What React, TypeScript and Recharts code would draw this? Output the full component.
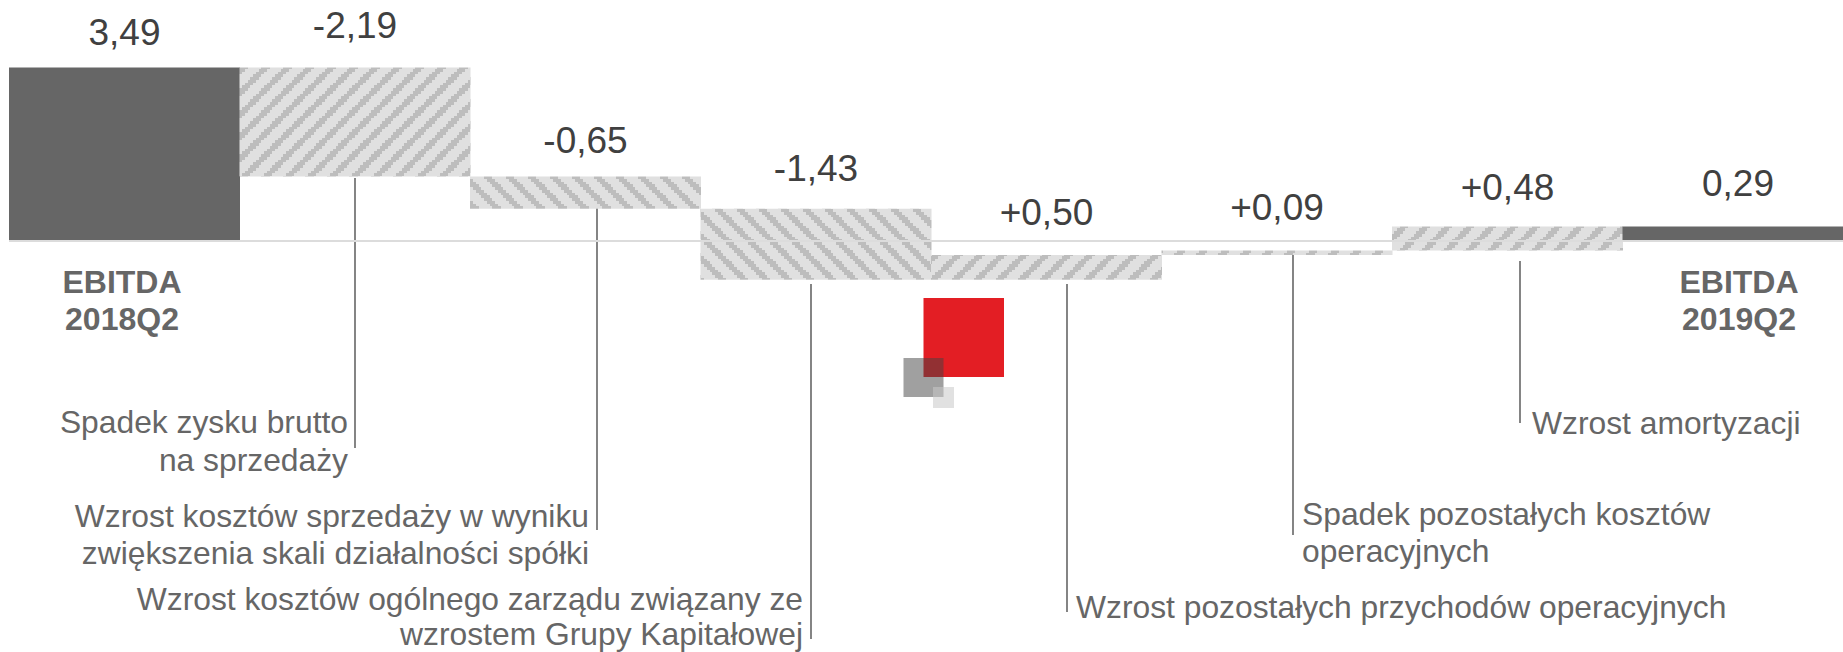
import { BarChart, Bar, Cell, XAxis, YAxis, ReferenceLine, LabelList } from "recharts";

const categories = ["start", "gross", "selling", "admin", "otherIncome", "otherCosts", "amortization", "end"];
const deltas = [3.49, -2.19, -0.65, -1.43, 0.5, 0.09, 0.48, 0.29];
const valueLabels = ["3,49", "-2,19", "-0,65", "-1,43", "+0,50", "+0,09", "+0,48", "0,29"];
const totals = ["start", "end"];
const hatchDown = ["selling", "admin"];

// how far above its bar each value label sits (px)
const labelLift = [23, 30, 23, 28, 30, 30, 27, 31];

const data = categories.map((name, i) => {
  const isTotal = totals.includes(name);
  const before = deltas.slice(0, i).reduce((a, b) => a + b, 0);
  const from = isTotal ? 0 : before;
  const to = isTotal ? deltas[i] : before + deltas[i];
  return { name, range: [from, to], label: valueLabels[i] };
});

const fillFor = (name: string) => {
  if (totals.includes(name)) return "#666666";
  return hatchDown.includes(name) ? "url(#hatchDown)" : "url(#hatchUp)";
};

const font = "'Liberation Sans', Arial, sans-serif";

const ValueLabel = (props: any) => {
  const { x, y, width, height, index, value } = props;
  const top = Math.min(y, y + height);
  return (
    <text x={x + width / 2} y={top - labelLift[index]} textAnchor="middle" fontFamily={font} fontSize={37} fill="#404040">
      {value}
    </text>
  );
};

const captions = [
  { anchor: "end", x: 348, lines: [["Spadek zysku brutto", 433], ["na sprzedaży", 471]] },
  { anchor: "end", x: 589, lines: [["Wzrost kosztów sprzedaży w wyniku", 527], ["zwiększenia skali działalności spółki", 564]] },
  { anchor: "end", x: 803, lines: [["Wzrost kosztów ogólnego zarządu związany ze", 610], ["wzrostem Grupy Kapitałowej", 645]] },
  { anchor: "start", x: 1076, lines: [["Wzrost pozostałych przychodów operacyjnych", 618]] },
  { anchor: "start", x: 1302, lines: [["Spadek pozostałych kosztów", 525], ["operacyjnych", 562]] },
  { anchor: "start", x: 1532, lines: [["Wzrost amortyzacji", 434]] },
];

const leaders = [
  [355, 178, 448],
  [597, 208, 530],
  [811, 284, 639],
  [1067, 284, 612],
  [1293, 254, 535],
  [1520, 261, 423],
];

const endLabels = [
  { x: 122, lines: [["EBITDA", 293], ["2018Q2", 330]] },
  { x: 1739, lines: [["EBITDA", 293], ["2019Q2", 330]] },
];

// stair-stepped stripes, 8 cells to a repeat
const CELL = 2.75;
const SIZE = CELL * 8;
const Hatch = ({ id, down }: { id: string; down: boolean }) => (
  <pattern id={id} width={SIZE} height={SIZE} patternUnits="userSpaceOnUse">
    <rect width={SIZE} height={SIZE} fill="#e0e0e0" />
    {Array.from({ length: 8 }).map((_, row) =>
      [0, 1, 2].map((k) => (
        <rect
          key={row + "-" + k}
          x={(((down ? row : 7 - row) + k) % 8) * CELL}
          y={row * CELL}
          width={CELL}
          height={CELL}
          fill="#bdbdbd"
          shapeRendering="crispEdges"
        />
      ))
    )}
  </pattern>
);

export default function App() {
  return (
    <div style={{ position: "absolute", left: 0, top: 0, width: 1843, height: 652, overflow: "hidden" }}>
      <BarChart
        width={1853}
        height={652}
        data={data}
        barCategoryGap={0}
        margin={{ top: 0, right: 0, bottom: 0, left: 9 }}
      >
        <defs>
          <Hatch id="hatchUp" down={false} />
          <Hatch id="hatchDown" down={true} />
        </defs>
        <XAxis dataKey="name" hide />
        <YAxis hide domain={[-8.27, 4.85]} allowDataOverflow />
        <Bar dataKey="range" isAnimationActive={false}>
          {data.map((d) => (
            <Cell key={d.name} fill={fillFor(d.name)} />
          ))}
          <LabelList dataKey="label" content={ValueLabel} />
        </Bar>
        <ReferenceLine y={0} stroke="#dcdcdc" strokeWidth={2} />

        {leaders.map(([x, y1, y2]) => (
          <line key={x} x1={x} x2={x} y1={y1} y2={y2} stroke="#666666" strokeWidth={1.6} />
        ))}
        {captions.map((c) =>
          c.lines.map(([t, y]) => (
            <text key={t as string} x={c.x} y={y as number} textAnchor={c.anchor as any} fontFamily={font} fontSize={31.8} fill="#666666">
              {t}
            </text>
          ))
        )}
        {endLabels.map((c) =>
          c.lines.map(([t, y]) => (
            <text key={c.x + (t as string)} x={c.x} y={y as number} textAnchor="middle" fontFamily={font} fontSize={32} fontWeight="bold" fill="#666666">
              {t}
            </text>
          ))
        )}

        {/* logo squares */}
        <rect x={923.5} y={298} width={80.5} height={79} fill="#e31e24" />
        <rect x={903.5} y={358} width={40} height={39} fill="#414141" fillOpacity={0.5} />
        <rect x={933} y={387} width={21} height={21} fill="#c8c8c8" fillOpacity={0.55} />
      </BarChart>
    </div>
  );
}
